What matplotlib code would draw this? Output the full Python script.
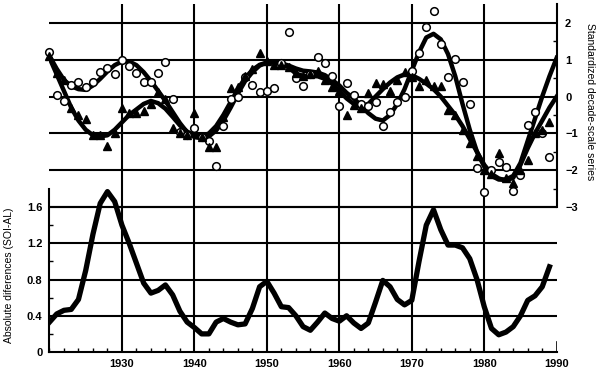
import matplotlib.pyplot as plt
import numpy as np
from matplotlib.ticker import MultipleLocator, FixedLocator

plt.rcParams['font.family'] = ['Liberation Sans', 'DejaVu Sans']

years = np.arange(1920, 1990)
curve_years = np.arange(1920, 1991)

# open circles (SOI) and filled triangles (AL), standardized decade-scale series
soi_pts = [1.2, 0.05, -0.12, 0.3, 0.4, 0.25, 0.4, 0.67, 0.76, 0.61,
           1.0, 0.83, 0.65, 0.39, 0.39, 0.65, 0.93, -0.07, -0.95, -1.04,
           -0.85, -1.1, -1.2, -1.87, -0.8, -0.07, 0.0, 0.52, 0.3, 0.13,
           0.16, 0.22, 0.9, 1.74, 0.49, 0.28, 0.62, 1.08, 0.92, 0.56,
           -0.26, 0.37, 0.05, -0.2, -0.26, -0.14, -0.8, -0.41, -0.15, 0.0,
           0.7, 1.17, 1.89, 2.33, 1.42, 0.54, 1.03, 0.4, -0.2, -1.95,
           -2.58, -2.0, -1.77, -1.9, -2.56, -2.13, -0.77, -0.41, -1.0, -1.63]
al_pts = [1.1, 0.63, 0.45, -0.3, -0.5, -0.61, -1.04, -1.05, -1.35, -1.0,
          -0.32, -0.45, -0.44, -0.4, -0.2, 0.13, -0.08, -0.86, -1.0, -1.05,
          -0.44, -1.1, -1.36, -1.36, -0.55, 0.22, 0.25, 0.55, 0.75, 1.19,
          0.95, 0.85, 0.85, 0.8, 0.65, 0.55, 0.6, 0.7, 0.45, 0.25,
          0.15, -0.5, -0.23, -0.3, 0.1, 0.36, 0.35, 0.16, 0.45, 0.67,
          0.52, 0.28, 0.45, 0.28, 0.28, -0.37, -0.5, -0.9, -1.27, -1.6,
          -2.0, -2.1, -1.52, -2.2, -2.35, -2.0, -1.72, -1.0, -0.9, -0.68]

# smoothed curves
soi_smooth = [1.1, 0.75, 0.45, 0.28, 0.2, 0.18, 0.3, 0.48, 0.68, 0.85,
              0.95, 0.95, 0.85, 0.66, 0.42, 0.15, -0.12, -0.42, -0.72, -0.97,
              -1.1, -1.13, -1.08, -0.92, -0.65, -0.3, 0.08, 0.42, 0.66, 0.84,
              0.92, 0.94, 0.9, 0.84, 0.76, 0.7, 0.68, 0.65, 0.58, 0.45,
              0.3, 0.1, -0.05, -0.25, -0.45, -0.6, -0.65, -0.5, -0.2, 0.2,
              0.7, 1.2, 1.6, 1.7, 1.55, 1.15, 0.55, -0.2, -0.9, -1.5,
              -1.9, -2.15, -2.25, -2.25, -2.15, -1.8, -1.2, -0.6, 0.0, 0.55, 1.05]
al_smooth = [1.05, 0.6, 0.15, -0.3, -0.65, -0.9, -1.05, -1.08, -1.05, -0.9,
             -0.7, -0.5, -0.35, -0.2, -0.12, -0.18, -0.33, -0.55, -0.78, -0.95,
             -1.05, -1.08, -1.0, -0.8, -0.5, -0.15, 0.2, 0.5, 0.72, 0.86,
             0.92, 0.92, 0.88, 0.8, 0.62, 0.56, 0.55, 0.55, 0.48, 0.35,
             0.15, -0.05, -0.2, -0.27, -0.2, 0.0, 0.2, 0.38, 0.52, 0.6,
             0.58, 0.48, 0.35, 0.2, 0.0, -0.25, -0.5, -0.8, -1.15, -1.5,
             -1.85, -2.1, -2.22, -2.28, -2.2, -1.85, -1.4, -1.0, -0.65, -0.3, 0.0]

# absolute differences
abs_diff = [0.33, 0.42, 0.46, 0.47, 0.58, 0.9, 1.3, 1.64, 1.77, 1.66,
            1.4, 1.2, 0.98, 0.76, 0.65, 0.68, 0.74, 0.63, 0.45, 0.33,
            0.27, 0.2, 0.2, 0.33, 0.37, 0.33, 0.3, 0.31, 0.48, 0.72,
            0.78, 0.65, 0.5, 0.49, 0.4, 0.28, 0.24, 0.33, 0.43, 0.37,
            0.34, 0.4, 0.32, 0.26, 0.32, 0.55, 0.79, 0.72, 0.58, 0.52,
            0.57, 1.0, 1.4, 1.57, 1.35, 1.18, 1.18, 1.15, 1.03, 0.8,
            0.5, 0.26, 0.19, 0.22, 0.28, 0.4, 0.57, 0.62, 0.72, 0.94]

fig = plt.figure(figsize=(5.99, 3.77), dpi=100)
ax = fig.add_axes([0.0826, 0.0663, 0.8468, 0.923])
ax2 = ax.twinx()

ax.set_xlim(1920, 1990)
ax.set_ylim(0, 3.84)
ax2.set_ylim(-6.924, 2.507)

# bottom panel
ax.plot(years, abs_diff, color='black', lw=3.8, solid_joinstyle='round', zorder=5)
ax.set_yticks([0, 0.4, 0.8, 1.2, 1.6])
ax.set_yticklabels(['0', '0.4', '0.8', '1.2', '1.6'])
ax.yaxis.set_minor_locator(FixedLocator([0.2, 0.6, 1.0, 1.4]))
ax.set_xticks([1930, 1940, 1950, 1960, 1970, 1980, 1990])
ax.xaxis.set_minor_locator(MultipleLocator(2))
for v in [0.4, 0.8, 1.2, 1.6]:
    ax.axhline(v, color='black', lw=1.5, zorder=1)
for yr in [1930, 1940, 1950, 1960, 1970, 1980]:
    ax.axvline(yr, color='black', lw=1.5, zorder=1)
ax.axvline(1990, ymin=0, ymax=0.03, color='black', lw=1.2)

# top panel
ax2.plot(curve_years, soi_smooth, color='black', lw=3.2, solid_joinstyle='round', zorder=4)
ax2.plot(curve_years, al_smooth, color='black', lw=3.2, solid_joinstyle='round', zorder=4)
ax2.plot(years, soi_pts, 'o', ms=5.5, mfc='white', mec='black', mew=1.1,
         zorder=6, clip_on=False)
ax2.plot(years, al_pts, '^', ms=6, mfc='black', mec='black', zorder=6, clip_on=False)
ax2.set_yticks([-3, -2, -1, 0, 1, 2])
ax2.yaxis.set_minor_locator(FixedLocator([-2.5, -1.5, -0.5, 0.5, 1.5]))
for v in [-3, -2, -1, 0, 1, 2]:
    ax2.axhline(v, color='black', lw=1.5, zorder=1)

for a in (ax, ax2):
    a.spines['top'].set_visible(False)
    for s in a.spines.values():
        s.set_linewidth(1.5)
ax.spines['right'].set_visible(False)
ax.spines['left'].set_bounds(0, 1.8)
ax2.spines['left'].set_visible(False)
ax2.spines['bottom'].set_visible(False)
ax2.spines['right'].set_bounds(-3, 2.507)

ax.tick_params(axis='both', which='major', length=0, labelsize=8, pad=5)
ax.tick_params(axis='both', which='minor', direction='in', length=3, width=1)
ax2.tick_params(axis='y', which='major', length=0, labelsize=8, pad=6)
ax2.tick_params(axis='y', which='minor', direction='in', length=3, width=1)
for lab in ax.get_xticklabels() + ax.get_yticklabels() + ax2.get_yticklabels():
    lab.set_fontweight('bold')

ax.set_ylabel('Absolute diferences (SOI-AL)', fontsize=7.5, labelpad=8)
ax.yaxis.set_label_coords(-0.07, 0.22)
ax2.set_ylabel('Standardized decade-scale series', fontsize=7.5,
               rotation=270, labelpad=12)
ax2.yaxis.set_label_coords(1.075, 0.72)

fig.savefig('out.png', dpi=100)
